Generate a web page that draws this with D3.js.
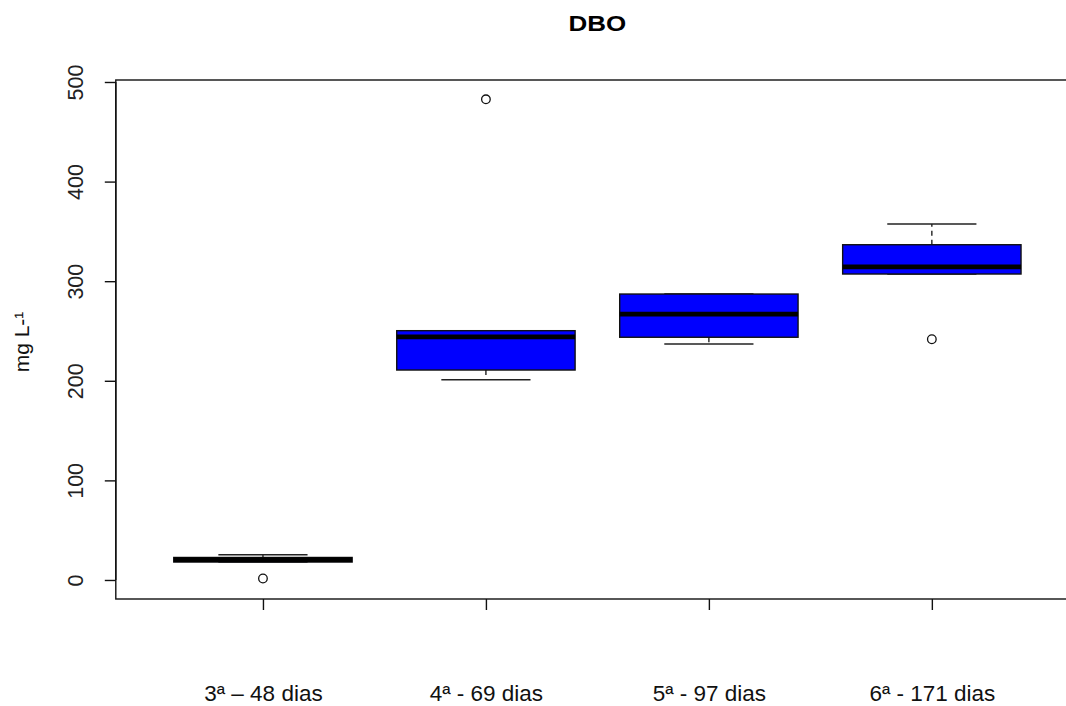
<!DOCTYPE html>
<html>
<head>
<meta charset="utf-8">
<script src="https://cdn.jsdelivr.net/npm/d3@7"></script>
<style>
  html, body { margin: 0; padding: 0; background: #fff; }
  svg { display: block; font-family: "Liberation Sans", Arial, sans-serif; }
</style>
</head>
<body>
<svg id="chart" width="1066" height="706"></svg>
<script>
// Biochemical oxygen demand (DBO) per sampling campaign
const categories = ["3ª – 48 dias", "4ª - 69 dias", "5ª - 97 dias", "6ª - 171 dias"];
const whiskerLow  = [18.0, 201.0, 237.0, 307.2];
const q1          = [18.0, 210.8, 243.7, 307.2];
const medians     = [20.4, 244.0, 267.0, 314.3];
const q3          = [22.6, 250.3, 287.1, 336.6];
const whiskerHigh = [25.4, 250.3, 287.1, 357.4];
const outliers    = [[1.5], [482.6], [], [241.7]];
const yTicks = [0, 100, 200, 300, 400, 500];

const svg = d3.select("#chart");

const x = d3.scaleLinear().domain([0.34, 4.66]).range([115.8, 1079]);
const y = d3.scaleLinear().domain([-19.1, 502]).range([599, 80]);
const unit = x(2) - x(1);
const boxW = 0.8 * unit;
const capW = 0.4 * unit;

const boxes = categories.map((c, i) => ({
  pos: i + 1, lo: whiskerLow[i], q1: q1[i], med: medians[i], q3: q3[i], hi: whiskerHigh[i], out: outliers[i]
}));

const g = svg.append("g");

// whiskers (dashed) and caps
const wk = g.selectAll("g.whisk").data(boxes).join("g").attr("class", "whisk");
wk.append("line")
  .attr("x1", d => x(d.pos)).attr("x2", d => x(d.pos))
  .attr("y1", d => y(d.q3)).attr("y2", d => y(d.hi))
  .attr("stroke", "#222").attr("stroke-width", 1.4).attr("stroke-dasharray", "5,4");
wk.append("line")
  .attr("x1", d => x(d.pos)).attr("x2", d => x(d.pos))
  .attr("y1", d => y(d.q1)).attr("y2", d => y(d.lo))
  .attr("stroke", "#222").attr("stroke-width", 1.4).attr("stroke-dasharray", "5,4");
wk.append("line")
  .attr("x1", d => x(d.pos) - capW / 2).attr("x2", d => x(d.pos) + capW / 2)
  .attr("y1", d => y(d.hi)).attr("y2", d => y(d.hi))
  .attr("stroke", "#222").attr("stroke-width", 1.4);
wk.append("line")
  .attr("x1", d => x(d.pos) - capW / 2).attr("x2", d => x(d.pos) + capW / 2)
  .attr("y1", d => y(d.lo)).attr("y2", d => y(d.lo))
  .attr("stroke", "#222").attr("stroke-width", 1.4);

// boxes
g.selectAll("rect.box").data(boxes).join("rect").attr("class", "box")
  .attr("x", d => x(d.pos) - boxW / 2)
  .attr("width", boxW)
  .attr("y", d => y(d.q3))
  .attr("height", d => Math.max(0.01, y(d.q1) - y(d.q3)))
  .attr("fill", "#0000ff").attr("stroke", "#111").attr("stroke-width", 1.4);

// medians
g.selectAll("line.med").data(boxes).join("line").attr("class", "med")
  .attr("x1", d => x(d.pos) - boxW / 2).attr("x2", d => x(d.pos) + boxW / 2)
  .attr("y1", d => y(d.med)).attr("y2", d => y(d.med))
  .attr("stroke", "#000").attr("stroke-width", 4.7);

// outliers
const outPts = boxes.flatMap(d => d.out.map(v => ({ pos: d.pos, v })));
g.selectAll("circle.out").data(outPts).join("circle").attr("class", "out")
  .attr("cx", d => x(d.pos)).attr("cy", d => y(d.v)).attr("r", 4.3)
  .attr("fill", "none").attr("stroke", "#111").attr("stroke-width", 1.3);

// plot frame
svg.append("rect")
  .attr("x", x.range()[0]).attr("y", y.range()[1])
  .attr("width", x.range()[1] - x.range()[0]).attr("height", y.range()[0] - y.range()[1])
  .attr("fill", "none").attr("stroke", "#111").attr("stroke-width", 1.4);

// y axis
const yAxis = svg.append("g")
  .attr("transform", `translate(${x.range()[0]},0)`)
  .call(d3.axisLeft(y).tickValues(yTicks).tickSize(11).tickPadding(0).tickFormat(d3.format("d")));
yAxis.select(".domain").attr("stroke", "#111").attr("stroke-width", 1.4)
  .attr("d", `M0,${y(0)}V${y(500)}`);
yAxis.selectAll(".tick line").attr("stroke", "#111").attr("stroke-width", 1.4);
yAxis.selectAll(".tick text")
  .attr("x", null).attr("dy", null)
  .attr("transform", "translate(-33,0) rotate(-90)")
  .attr("text-anchor", "middle")
  .attr("font-size", 21.5).attr("fill", "#222")
  .attr("font-family", "Liberation Sans, Arial, sans-serif");

// x axis
const xAxis = svg.append("g")
  .attr("transform", `translate(0,${y.range()[0]})`)
  .call(d3.axisBottom(x).tickValues(boxes.map(d => d.pos)).tickSize(11).tickFormat((d, i) => categories[i]));
xAxis.select(".domain").remove();
xAxis.selectAll(".tick line").attr("stroke", "#111").attr("stroke-width", 1.4);
xAxis.selectAll(".tick text")
  .attr("y", 102).attr("dy", null)
  .attr("font-size", 22.5).attr("fill", "#111")
  .attr("font-family", "Liberation Sans, Arial, sans-serif");

// axis title
svg.append("text")
  .attr("transform", "translate(29,342) rotate(-90)")
  .attr("text-anchor", "middle")
  .attr("font-size", 21).attr("fill", "#111")
  .text("mg L-¹");

// chart title
svg.append("text")
  .attr("transform", `translate(${(x.range()[0] + x.range()[1]) / 2},31) scale(1.18,1)`)
  .attr("text-anchor", "middle")
  .attr("font-size", 22).attr("font-weight", "bold").attr("fill", "#000")
  .text("DBO");
</script>
</body>
</html>
